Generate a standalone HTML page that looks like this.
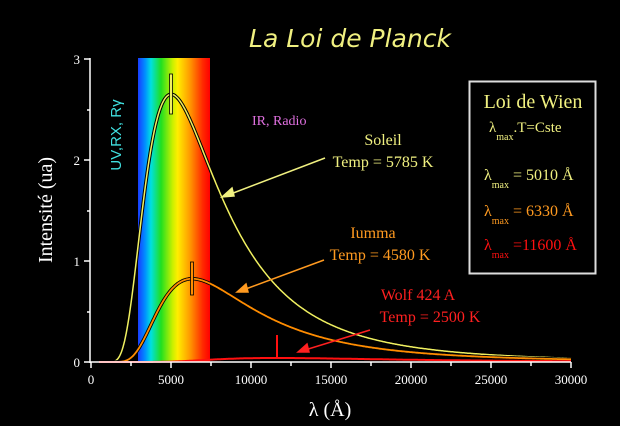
<!DOCTYPE html>
<html><head><meta charset="utf-8"><style>
html,body{margin:0;padding:0;background:#000;}
svg{display:block}
text{font-family:"Liberation Serif",serif}
</style></head><body>
<svg id="s" width="620" height="426" xmlns="http://www.w3.org/2000/svg">
<defs><linearGradient id="sp" x1="0" x2="1" y1="0" y2="0">
<stop offset="0" stop-color="#1a3cff"/><stop offset="0.1" stop-color="#0090ff"/>
<stop offset="0.18" stop-color="#00e0e0"/><stop offset="0.32" stop-color="#20e020"/>
<stop offset="0.48" stop-color="#c8f000"/><stop offset="0.55" stop-color="#ffee00"/>
<stop offset="0.72" stop-color="#ff9a00"/><stop offset="0.9" stop-color="#ff2a00"/><stop offset="1" stop-color="#ff0000"/>
</linearGradient></defs>
<rect width="620" height="426" fill="#000"/>
<rect x="138" y="58" width="72" height="304" fill="url(#sp)"/>
<g id="curves"></g>
<g stroke="#fff" stroke-width="1.5" fill="none">
<line x1="90" y1="58" x2="90" y2="363"/><line x1="90" y1="362" x2="571" y2="362"/>
<line x1="84" y1="59" x2="90" y2="59"/><line x1="84" y1="160" x2="90" y2="160"/><line x1="84" y1="261" x2="90" y2="261"/><line x1="84" y1="362" x2="90" y2="362"/>
<line x1="87" y1="110" x2="90" y2="110"/><line x1="87" y1="211" x2="90" y2="211"/><line x1="87" y1="312" x2="90" y2="312"/>
</g>
<g id="xt" stroke="#fff" stroke-width="1.5"></g>
<g fill="#fff" font-size="13" style="font-family:'Liberation Sans',sans-serif">
<text x="80" y="64" text-anchor="end">3</text><text x="80" y="165" text-anchor="end">2</text>
<text x="80" y="266" text-anchor="end">1</text><text x="80" y="367" text-anchor="end">0</text>
<g text-anchor="middle"><text x="91" y="384">0</text><text x="171" y="384">5000</text><text x="251" y="384">10000</text><text x="331" y="384">15000</text><text x="411" y="384">20000</text><text x="491" y="384">25000</text><text x="571" y="384">30000</text></g>
</g>
<text x="330" y="416" fill="#fff" font-size="20" text-anchor="middle">λ (Å)</text>
<text transform="translate(52,210) rotate(-90)" fill="#fff" font-size="20" text-anchor="middle">Intensité (ua)</text>
<text transform="translate(121,135) rotate(-90)" fill="#40e0e0" font-size="15" text-anchor="middle" style="font-family:'Liberation Sans',sans-serif">UV,RX, Rγ</text>
<text x="350" y="47" fill="#f0f080" font-size="25" font-style="italic" text-anchor="middle" style="font-family:'DejaVu Sans',sans-serif;font-weight:200">La Loi de Planck</text>
<text x="252" y="125" fill="#e070e0" font-size="14">IR, Radio</text>
<text x="383" y="145" fill="#f0f080" font-size="16" text-anchor="middle">Soleil</text>
<text x="383" y="167" fill="#f0f080" font-size="16" text-anchor="middle">Temp = 5785 K</text>
<text x="373" y="238" fill="#ff9a20" font-size="16" text-anchor="middle">Iumma</text>
<text x="380" y="260" fill="#ff9a20" font-size="16" text-anchor="middle">Temp = 4580 K</text>
<text x="418" y="300" fill="#ff2020" font-size="16" text-anchor="middle">Wolf 424 A</text>
<text x="430" y="322" fill="#ff2020" font-size="16" text-anchor="middle">Temp = 2500 K</text>
<g stroke-width="1.5" fill="none">
<line x1="325" y1="158" x2="228" y2="195" stroke="#f0f080"/><polygon points="222,197 232,188 234,196" fill="#f0f080" stroke="#f0f080"/>
<line x1="324" y1="260" x2="243" y2="290" stroke="#ff9a20"/><polygon points="237,292 246,284 248,292" fill="#ff9a20" stroke="#ff9a20"/>
<line x1="370" y1="330" x2="305" y2="350" stroke="#ff2020"/><polygon points="298,352 307,344 309,352" fill="#ff2020" stroke="#ff2020"/>
</g>
<rect x="469.5" y="81.5" width="126" height="192" fill="none" stroke="#ddd" stroke-width="2"/>
<text x="533" y="108" fill="#f0f080" font-size="20" text-anchor="middle">Loi de Wien</text>
<g font-size="16"><text x="489" y="132" fill="#f0f080" font-size="15">λ<tspan font-size="10" dy="8">max</tspan><tspan dy="-8">.T=Cste</tspan></text>
<text x="484" y="180" fill="#f0f080">λ<tspan font-size="10" dy="8">max</tspan><tspan dy="-8"> = 5010 Å</tspan></text>
<text x="484" y="216" fill="#ff9a20">λ<tspan font-size="10" dy="8">max</tspan><tspan dy="-8"> = 6330 Å</tspan></text>
<text x="484" y="250" fill="#ff1010">λ<tspan font-size="10" dy="8">max</tspan><tspan dy="-8"> =11600 Å</tspan></text></g>
</svg>
<script>
var NS="http://www.w3.org/2000/svg";
function X(l){return 91+l*0.016}function Y(v){return 362-v*101}
function B(l,T){return Math.pow(l,-5)/(Math.exp(1.4388e8/(l*T))-1)}
var ref=B(5010,5785);
function path(T){var d="";for(var l=500;l<=30000;l+=50){var v=2.65*B(l,T)/ref;d+=(d?"L":"M")+X(l).toFixed(1)+","+Y(v).toFixed(1);}return d;}
var g=document.getElementById("curves");
function add(d,c,w){var p=document.createElementNS(NS,"path");p.setAttribute("d",d);p.setAttribute("stroke",c);p.setAttribute("stroke-width",w);p.setAttribute("fill","none");g.appendChild(p);}
function bar(x,y1,y2,c){var r=document.createElementNS(NS,"rect");r.setAttribute("x",x-1.5);r.setAttribute("y",y1);r.setAttribute("width",3);r.setAttribute("height",y2-y1);r.setAttribute("fill",c);r.setAttribute("stroke","#000");r.setAttribute("stroke-width","0.8");g.appendChild(r);}
var ds=path(5785),di=path(4580),dw=path(2500);
add(ds,"#000",3.5);add(ds,"#f0f060",1.5);
add(di,"#000",3.5);add(di,"#ff8c00",1.8);
add(dw,"#ff1010",2);
bar(171,74,114,"#f0f060");
bar(192,262,295,"#ff8c00");
add("M277,335L277,358","#ff1010",2);
var xt=document.getElementById("xt");
for(var i=0;i<=12;i++){var x=91+i*40;var l=document.createElementNS(NS,"line");l.setAttribute("x1",x);l.setAttribute("x2",x);l.setAttribute("y1",362);l.setAttribute("y2",i%2?366:368);xt.appendChild(l);}
</script>
</body></html>
